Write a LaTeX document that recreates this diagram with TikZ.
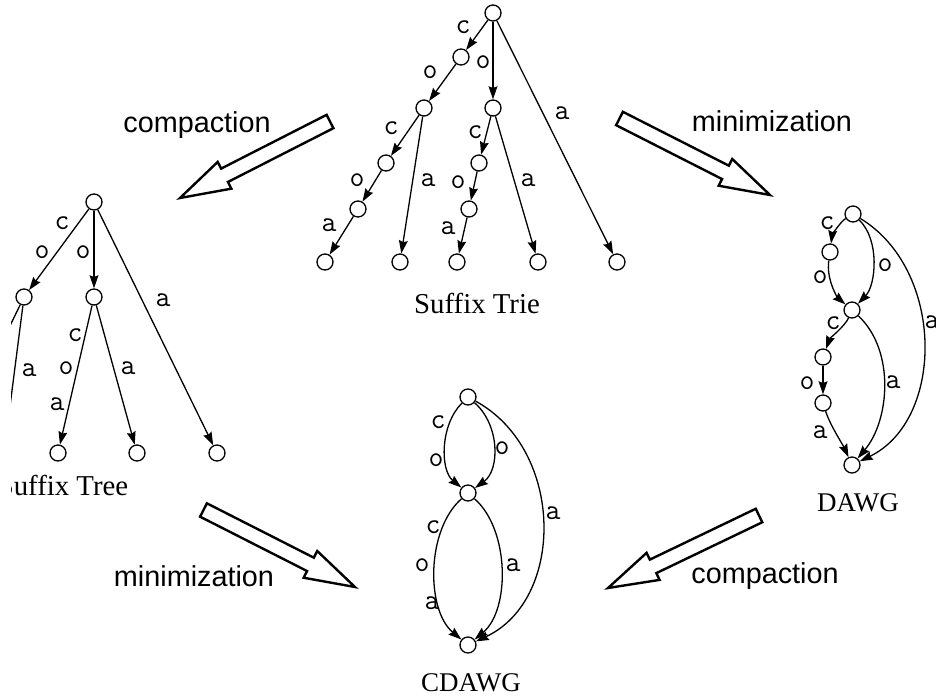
\documentclass[tikz,border=0pt]{standalone}
\usepackage{fontspec}
\setmainfont{Liberation Serif}
\setsansfont{Liberation Sans}
\usetikzlibrary{arrows.meta,calc}

\tikzset{
  st/.style={circle,draw,line width=0.65pt,minimum size=8pt,inner sep=0pt},
  tr/.style={line width=0.65pt,-{Stealth[length=6.5pt,width=4.4pt,inset=0.8pt]}},
  lbl/.style={font=\ttfamily\fontsize{14.5}{14.5}\selectfont,inner sep=0pt},
  title/.style={font=\fontsize{14.4}{14.4}\selectfont,anchor=base,inner sep=0pt},
  opname/.style={font=\sffamily\fontsize{14.4}{14.4}\selectfont,anchor=base,inner sep=0pt},
  bigarrow/.style={draw,line width=1.2pt,line join=miter,fill=white},
}

% hollow block arrow from tail coordinate #1 to tip coordinate #2
\newcommand\blockarrow[2]{%
  \coordinate (#1base) at ($(#2)!25pt!(#1)$);
  \draw[bigarrow] ($(#1)!3.75pt!90:(#2)$) -- ($(#1base)!3.75pt!90:(#2)$)
    -- ($(#1base)!7.5pt!90:(#2)$) -- (#2) -- ($(#1base)!7.5pt!-90:(#2)$)
    -- ($(#1base)!3.75pt!-90:(#2)$) -- ($(#1)!3.75pt!-90:(#2)$) -- cycle;}

\begin{document}
\begin{tikzpicture}[x=0.5pt,y=-0.5pt]
\useasboundingbox (0,0) rectangle (936,697);
\clip (11,0) rectangle (936,697);

% ---------------- Suffix Trie ----------------
\node[st] (r)     at (493,13)  {};
\node[st] (c)     at (461,57)  {};
\node[st] (co)    at (424,108) {};
\node[st] (o)     at (493,108) {};
\node[st] (coc)   at (386,163) {};
\node[st] (coco)  at (358,209) {};
\node[st] (cocoa) at (325,262) {};
\node[st] (coa)   at (400,262) {};
\node[st] (oc)    at (479,163) {};
\node[st] (oco)   at (469,209) {};
\node[st] (ocoa)  at (457,262) {};
\node[st] (oa)    at (538,262) {};
\node[st] (a)     at (617,262) {};
\draw[tr] (r) -- (c);
\draw[tr] (c) -- (co);
\draw[tr] (r) -- (o);
\draw[tr] (r) -- (a);
\draw[tr] (co) -- (coc);
\draw[tr] (co) -- (coa);
\draw[tr] (coc) -- (coco);
\draw[tr] (coco) -- (cocoa);
\draw[tr] (o) -- (oc);
\draw[tr] (o) -- (oa);
\draw[tr] (oc) -- (oco);
\draw[tr] (oco) -- (ocoa);
\node[lbl] (s1) at (463,27)  {c};
\node[lbl] (s2) at (430,72)  {o};
\node[lbl] (s3) at (483,62)  {o};
\node[lbl] (s4) at (562,113) {a};
\node[lbl] (s5) at (391,128) {c};
\node[lbl] (s6) at (428,180) {a};
\node[lbl] (s7) at (357,180) {o};
\node[lbl] (s8) at (329,225) {a};
\node[lbl] (s9) at (475,132) {c};
\node[lbl] (s10) at (528,180) {a};
\node[lbl] (s11) at (458,182) {o};
\node[lbl] (s12) at (448,228) {a};
\node[title] (trie) at (477,313) {Suffix Trie};

% ---------------- Suffix Tree ----------------
\node[st] (tr0) at (94,202) {};
\node[st] (trL) at (24,297) {};
\node[st] (trM) at (94,297) {};
\node[st] (tl1) at (58,453) {};
\node[st] (tl2) at (137,453) {};
\node[st] (tl3) at (217,453) {};
\coordinate (tx1) at (-52,453);
\coordinate (tx2) at (4,453);
\draw[tr] (tr0) -- (trL);
\draw[tr] (tr0) -- (trM);
\draw[tr] (tr0) -- (tl3);
\draw[tr] (trL) -- (tx1);
\draw[tr] (trL) -- (tx2);
\draw[tr] (trM) -- (tl1);
\draw[tr] (trM) -- (tl2);
\node[lbl] (t1) at (62,223)  {c};
\node[lbl] (t2) at (42,252)  {o};
\node[lbl] (t3) at (83,252)  {o};
\node[lbl] (t4) at (163,300) {a};
\node[lbl] (t5) at (29,370)  {a};
\node[lbl] (t6) at (75,335)  {c};
\node[lbl] (t7) at (66,368)  {o};
\node[lbl] (t8) at (57,404)  {a};
\node[lbl] (t9) at (128,368) {a};
\node[title] (tree) at (63,495) {Suffix Tree};

% ---------------- DAWG ----------------
\node[st] (d0) at (853,214) {};
\node[st] (d1) at (830,252) {};
\node[st] (d2) at (852,310) {};
\node[st] (d3) at (823,357) {};
\node[st] (d4) at (823,403) {};
\node[st] (d5) at (852,465) {};
\draw[tr] (d0) .. controls (840,222) and (832,236) .. (d1);
\draw[tr] (d1) .. controls (826,280) and (838,298) .. (d2);
\draw[tr] (d0) .. controls (880,240) and (876,285) .. (d2);
\draw[tr] (d0) .. controls (945,270) and (945,420) .. (d5);
\draw[tr] (d2) .. controls (845,326) and (830,338) .. (d3);
\draw[tr] (d2) .. controls (895,350) and (890,420) .. (d5);
\draw[tr] (d3) -- (d4);
\draw[tr] (d4) .. controls (830,425) and (843,445) .. (d5);
\node[lbl] (w1) at (827,223) {c};
\node[lbl] (w2) at (820,277) {o};
\node[lbl] (w3) at (885,265) {o};
\node[lbl] (w4) at (932,322) {a};
\node[lbl] (w5) at (833,323) {c};
\node[lbl] (w6) at (893,382) {a};
\node[lbl] (w7) at (807,383) {o};
\node[lbl] (w8) at (820,432) {a};
\node[title,font=\fontsize{13.5}{13.5}\selectfont] (dawg) at (858,511) {DAWG};

% ---------------- CDAWG ----------------
\node[st] (k0) at (468,397) {};
\node[st] (k1) at (468,493) {};
\node[st] (k2) at (468,645) {};
\draw[tr] (k0) .. controls (440,425) and (440,470) .. (k1);
\draw[tr] (k0) .. controls (500,425) and (500,470) .. (k1);
\draw[tr] (k0) .. controls (565,450) and (565,600) .. (k2);
\draw[tr] (k1) .. controls (426,530) and (426,610) .. (k2);
\draw[tr] (k1) .. controls (510,530) and (510,610) .. (k2);
\node[lbl] (q1) at (438,422) {c};
\node[lbl] (q2) at (436,460) {o};
\node[lbl] (q3) at (502,448) {o};
\node[lbl] (q4) at (553,513) {a};
\node[lbl] (q5) at (433,527) {c};
\node[lbl] (q6) at (422,565) {o};
\node[lbl] (q7) at (432,603) {a};
\node[lbl] (q8) at (513,565) {a};
\node[title,font=\fontsize{13.5}{13.5}\selectfont] (cdawg) at (471,691) {CDAWG};

% ---------------- transformations ----------------
\coordinate (ca1) at (330,121.5);  \coordinate (cb1) at (180,198);
\coordinate (ma1) at (619.5,118.5); \coordinate (mb1) at (770,195);
\coordinate (ma2) at (203.5,510);  \coordinate (mb2) at (355,587);
\coordinate (ca2) at (759,515.5);  \coordinate (cb2) at (608,588);
\blockarrow{ca1}{cb1}
\blockarrow{ma1}{mb1}
\blockarrow{ma2}{mb2}
\blockarrow{ca2}{cb2}
\node[opname] (op1) at (197,132) {compaction};
\node[opname] (op2) at (772,131) {minimization};
\node[opname] (op3) at (194,586) {minimization};
\node[opname] (op4) at (765,583) {compaction};
\end{tikzpicture}
\end{document}
